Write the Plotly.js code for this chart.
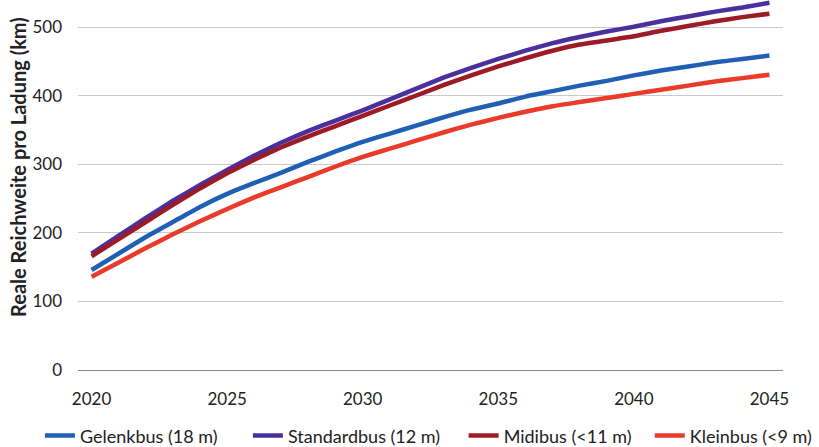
<!DOCTYPE html>
<html>
<head>
<meta charset="utf-8">
<script src="https://cdn.plot.ly/plotly-3.0.1.min.js"></script>
<style>
  html, body { margin: 0; padding: 0; background: #fff; }
  #chart { width: 819px; height: 447px; }
</style>
</head>
<body>
<div id="chart"></div>
<script>
// Jahre der Prognose
const years = [2020, 2021, 2022, 2023, 2024, 2025, 2026, 2027, 2028, 2029, 2030, 2031, 2032,
               2033, 2034, 2035, 2036, 2037, 2038, 2039, 2040, 2041, 2042, 2043, 2044, 2045];

// Reale Reichweite pro Ladung (km) je Bustyp
const gelenkbus   = [146, 170, 194, 216, 238, 257, 273, 288, 304, 319, 333, 345, 357,
                     369, 380, 389, 399, 407, 415, 422, 430, 437, 443, 449, 454, 459];
const standardbus = [170, 196, 222, 247, 270, 292, 313, 332, 349, 364, 379, 395, 411,
                     427, 441, 454, 466, 477, 486, 494, 501, 509, 516, 523, 529, 536];
const midibus     = [166, 191, 216, 241, 265, 287, 307, 325, 341, 356, 371, 386, 401,
                     416, 430, 443, 455, 466, 475, 481, 487, 495, 502, 509, 515, 520];
const kleinbus    = [136, 157, 178, 198, 217, 235, 252, 267, 282, 297, 311, 323, 335,
                     347, 358, 368, 377, 385, 391, 397, 403, 409, 415, 421, 426, 431];

const seriesNames = ['Gelenkbus (18 m)', 'Standardbus (12 m)', 'Midibus (<11 m)', 'Kleinbus (<9 m)'];
const xTicks = [2020, 2025, 2030, 2035, 2040, 2045];
const yTicks = [0, 100, 200, 300, 400, 500];
const yTitle = 'Reale Reichweite pro Ladung (km)';

const colors = ['#1f5fb4', '#4a2f9e', '#9c1b26', '#ea3a29'];
const seriesData = [gelenkbus, standardbus, midibus, kleinbus];

const textFont = 'Lato, Open Sans, sans-serif';

// one legend box per series so the entries sit in a single spaced row
const legendIds = ['legend', 'legend2', 'legend3', 'legend4'];
const legendX = [-0.054, 0.241, 0.547, 0.811];

const traces = seriesData.map((vals, i) => ({
  type: 'scatter',
  mode: 'lines',
  x: years,
  y: vals,
  name: seriesNames[i],
  legend: legendIds[i],
  line: { color: colors[i], width: 4.5, shape: 'spline', smoothing: 0.4 }
}));

const layout = {
  width: 819,
  height: 447,
  paper_bgcolor: '#ffffff',
  plot_bgcolor: '#ffffff',
  margin: { l: 78, r: 36, t: 0, b: 77, autoexpand: false },
  showlegend: true,
  xaxis: {
    range: [2019.5, 2045.5],
    tickvals: xTicks,
    ticktext: xTicks.map(String),
    showgrid: false,
    zeroline: false,
    showline: false,
    ticks: '',
    ticklabelstandoff: 17,
    tickfont: { family: textFont, size: 17, color: '#222' }
  },
  yaxis: {
    range: [0, 540],
    tickvals: yTicks,
    ticktext: yTicks.map(String),
    showgrid: true,
    gridcolor: '#c9c9c9',
    gridwidth: 1,
    zeroline: true,
    zerolinecolor: '#8a8a8a',
    zerolinewidth: 1,
    showline: false,
    ticks: '',
    ticklabelstandoff: 15,
    tickfont: { family: textFont, size: 17, color: '#222' }
  },
  annotations: [{
    text: '<b>' + yTitle + '</b>',
    xref: 'paper', yref: 'paper',
    x: -0.085, y: 0.549,
    xanchor: 'center', yanchor: 'middle',
    textangle: -90,
    showarrow: false,
    font: { family: textFont, size: 20, color: '#222' }
  }]
};

legendIds.forEach((id, i) => {
  layout[id] = {
    orientation: 'h',
    x: legendX[i],
    xanchor: 'left',
    y: -0.178,
    yanchor: 'middle',
    font: { family: textFont, size: 18, color: '#222' },
    itemwidth: 30,
    bgcolor: 'rgba(0,0,0,0)'
  };
});

Plotly.newPlot('chart', traces, layout, { displayModeBar: false, staticPlot: true });
</script>
</body>
</html>
